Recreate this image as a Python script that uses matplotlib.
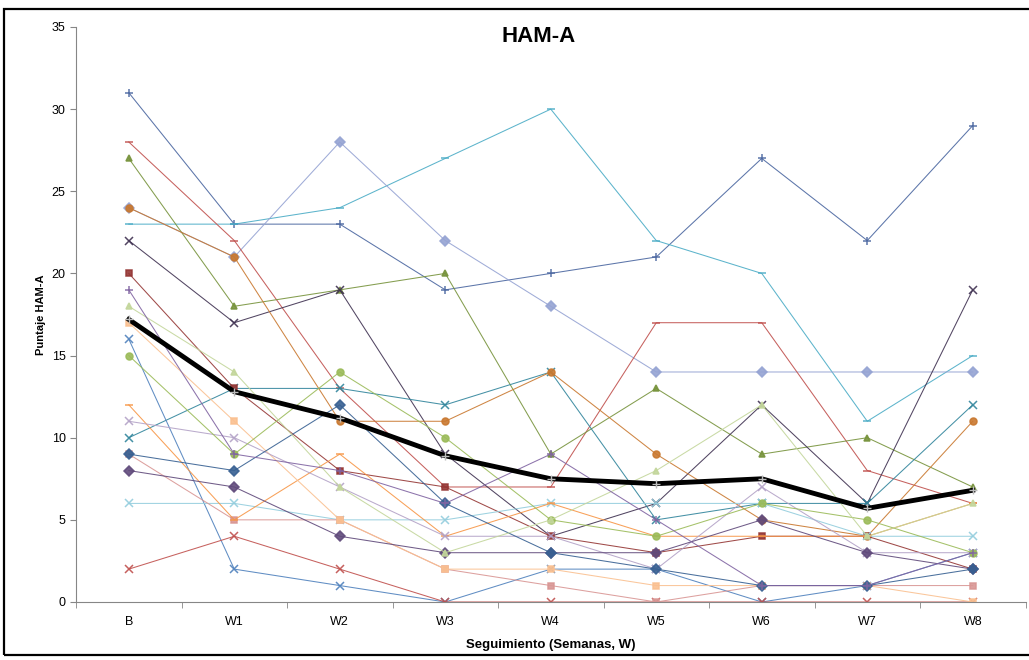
import matplotlib
matplotlib.use("Agg")
import matplotlib.pyplot as plt
from matplotlib.patches import Rectangle
import numpy as np

plt.rcParams['font.family'] = ['Liberation Sans Narrow', 'Liberation Sans', 'DejaVu Sans']

semanas = ['B', 'W1', 'W2', 'W3', 'W4', 'W5', 'W6', 'W7', 'W8']

# puntajes individuales por paciente
p01 = [31, 23, 23, 19, 20, 21, 27, 22, 29]
p02 = [23, 23, 24, 27, 30, 22, 20, 11, 15]
p03 = [24, 21, 28, 22, 18, 14, 14, 14, 14]
p04 = [28, 22, 13, 7, 7, 17, 17, 8, 6]
p05 = [27, 18, 19, 20, 9, 13, 9, 10, 7]
p06 = [22, 17, 19, 9, 4, 6, 12, 6, 19]
p07 = [10, 13, 13, 12, 14, 5, 6, 6, 12]
p08 = [24, 21, 11, 11, 14, 9, 5, 4, 11]
p09 = [20, 13, 8, 7, 4, 3, 4, 4, 2]
p10 = [16, 2, 1, 0, 2, 2, 0, 1, 3]
p11 = [2, 4, 2, 0, 0, 0, 0, 0, 0]
p12 = [6, 6, 5, 5, 6, 6, 6, 4, 4]
p13 = [9, 5, 5, 2, 1, 0, 1, 1, 1]
p14 = [12, 5, 9, 4, 6, 4, 4, 4, 6]
p15 = [17, 11, 5, 2, 2, 1, 1, 1, 0]
p16 = [11, 10, 7, 4, 4, 2, 7, 3, 3]
p17 = [8, 7, 4, 3, 3, 3, 5, 3, 2]
p18 = [9, 8, 12, 6, 3, 2, 1, 1, 2]
p19 = [15, 9, 14, 10, 5, 4, 6, 5, 3]
p20 = [18, 14, 7, 3, 5, 8, 12, 4, 6]
p21 = [19, 9, 8, 6, 9, 5, 1, 1, 3]

promedio = [17.2, 12.8, 11.2, 8.9, 7.5, 7.2, 7.5, 5.7, 6.8]

pacientes = [p01, p02, p03, p04, p05, p06, p07, p08, p09, p10, p11,
             p12, p13, p14, p15, p16, p17, p18, p19, p20, p21]

estilos = [
    ('#4A66A0', '+'), ('#4BACC6', '_'), ('#95A3D3', 'D'), ('#C0504D', '_'),
    ('#77933C', '^'), ('#3F3151', 'x'), ('#31859C', 'x'), ('#C9782F', 'o'),
    ('#953735', 's'), ('#4F81BD', 'x'), ('#C0504D', 'x'), ('#93CDDD', 'x'),
    ('#D99694', 's'), ('#F79646', '_'), ('#FAC090', 's'), ('#B3A2C7', 'x'),
    ('#604A7B', 'D'), ('#376092', 'D'), ('#9BBB59', 'o'), ('#C3D69B', '^'),
    ('#8064A2', '+'),
]

fig = plt.figure(figsize=(10.29, 6.6), dpi=100)
ax = fig.add_axes([0.0739, 0.0879, 0.9227, 0.8712])

x = np.arange(len(semanas))
for vals, (col, mk) in zip(pacientes, estilos):
    ms = 6 if mk in ('+', 'x', '_') else 5
    ax.plot(x, vals, color=col, lw=0.75, alpha=0.9, marker=mk, markersize=ms,
            markeredgewidth=1.1, markerfacecolor=col, markeredgecolor=col)

ax.plot(x, promedio, color='black', lw=3.5, marker='+', markersize=6,
        markeredgecolor='#bbbbbb', zorder=5)

ax.set_xlim(-0.5, len(semanas) - 0.5)
ax.set_ylim(0, 35)
ax.set_yticks(range(0, 36, 5))
ax.set_xticks(x)
ax.set_xticklabels(semanas)
ax.set_xticks(np.arange(-0.5, len(semanas)), minor=True)
ax.tick_params(axis='x', which='major', length=0, labelsize=9, pad=10)
ax.tick_params(axis='x', which='minor', length=4, color='#868686', direction='out')
ax.tick_params(axis='y', length=4, color='#868686', labelsize=9, direction='out')

for s in ('top', 'right'):
    ax.spines[s].set_visible(False)
for s in ('left', 'bottom'):
    ax.spines[s].set_color('#868686')

ax.set_ylabel('Puntaje HAM-A', fontsize=8, fontweight='bold', labelpad=4)
ax.set_xlabel('Seguimiento (Semanas, W)', fontsize=9.5, fontweight='bold', labelpad=8)
fig.text(0.523, 0.945, 'HAM-A', ha='center', va='center', fontsize=16, fontweight='bold')

# marco exterior del grafico
fig.patches.append(Rectangle((4 / 1029, 5 / 660), 1.2, 646 / 660, transform=fig.transFigure,
                             fill=False, edgecolor='black', lw=1.6))

fig.savefig('out.png', dpi=100)
